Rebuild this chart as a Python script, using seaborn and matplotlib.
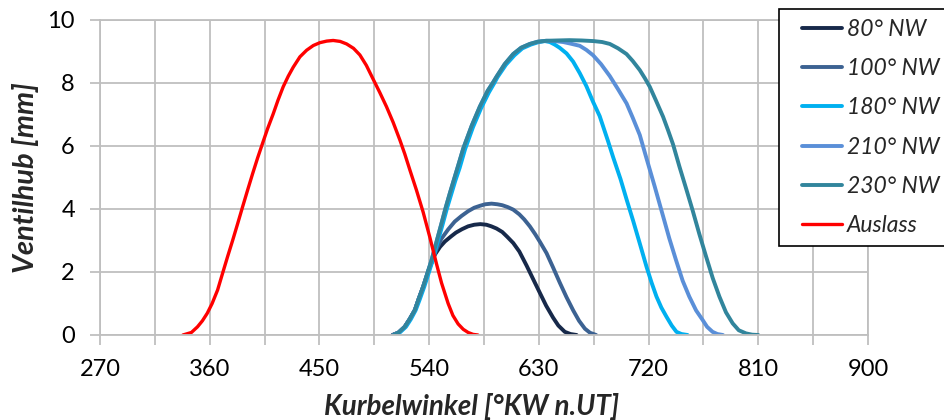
import matplotlib
matplotlib.use("Agg")
import matplotlib.pyplot as plt
import seaborn as sns
from matplotlib.lines import Line2D
from matplotlib.legend_handler import HandlerLine2D

sns.set_theme(style="whitegrid")
plt.rcParams["font.family"] = ["Lato", "DejaVu Sans"]

# valve lift curves (crank angle in deg, lift in mm)
nw80_deg = [510, 515, 520, 524, 528.3, 531.5, 535.1, 540, 544.7, 549, 553, 558, 562, 567,
            572, 577, 582, 587, 591, 595.3, 600, 604, 609, 614, 620, 625, 630.8, 636,
            641.7, 646, 651.3, 656, 661]
nw80_lift = [0, 0.08, 0.26, 0.5, 0.79, 1.15, 1.53, 2.1, 2.55, 2.8, 2.97, 3.13, 3.25, 3.36,
             3.45, 3.5, 3.52, 3.5, 3.45, 3.38, 3.27, 3.12, 2.92, 2.65, 2.2, 1.8, 1.34, 0.93,
             0.55, 0.3, 0.1, 0.03, 0]

nw100_deg = [510, 515, 520, 524, 528.3, 531.5, 535.1, 540, 546, 550, 555.6, 561, 566.6,
             572, 577, 581.6, 586, 591.2, 596, 600, 604.5, 609, 614, 618, 622.6, 627, 631,
             636.3, 641.6, 647.2, 652.7, 658.2, 663, 667.8, 672, 677]
nw100_lift = [0, 0.08, 0.26, 0.5, 0.79, 1.15, 1.53, 2.1, 2.72, 3.05, 3.35, 3.6, 3.78, 3.93,
              4.04, 4.1, 4.15, 4.17, 4.15, 4.12, 4.06, 3.98, 3.83, 3.67, 3.45, 3.2, 2.95,
              2.6, 2.15, 1.66, 1.2, 0.78, 0.45, 0.2, 0.07, 0]

nw180_deg = [511, 516, 521, 525, 529, 532.5, 536, 539.5, 543, 547, 551, 554.5, 558, 561.5,
             565, 569.5, 576, 582.6, 589, 593.5, 596, 603, 610, 616.5, 623.5, 630, 635,
             639, 643, 647, 652.7, 658.1, 663.6, 669, 674.5, 679.9, 686.8, 690.9, 697, 702,
             707.4, 713, 718.3, 722.5, 726.5, 730.5, 734.7, 739, 742.9, 747, 752]
nw180_lift = [0, 0.08, 0.26, 0.5, 0.79, 1.15, 1.53, 1.95, 2.38, 2.95, 3.5, 4.0, 4.45, 4.9,
              5.3, 5.9, 6.6, 7.2, 7.7, 8.0, 8.18, 8.58, 8.88, 9.1, 9.22, 9.3, 9.33, 9.3,
              9.22, 9.12, 8.94, 8.68, 8.31, 7.9, 7.4, 6.95, 6.15, 5.65, 4.95, 4.3, 3.62,
              2.88, 2.17, 1.66, 1.22, 0.87, 0.58, 0.3, 0.1, 0.03, 0]

nw210_deg = [511, 515, 520, 524, 528.3, 531.5, 535.1, 538.5, 542, 546, 550.2, 553.5, 557,
             560.5, 564, 568, 575, 581.6, 588, 592.5, 595.3, 602, 609, 615.5, 622.6, 629,
             636, 643, 650, 656, 663.6, 669, 674.5, 681, 688.2, 695, 702, 707, 712.8, 718,
             725, 732, 737, 742.5, 748, 753.4, 759, 764.3, 768, 772.5, 776.5, 781]
nw210_lift = [0, 0.08, 0.26, 0.5, 0.79, 1.15, 1.53, 1.95, 2.38, 2.95, 3.55, 4.03, 4.5, 4.95,
              5.4, 5.92, 6.65, 7.25, 7.75, 8.02, 8.2, 8.6, 8.92, 9.12, 9.24, 9.31, 9.34,
              9.33, 9.3, 9.25, 9.18, 9.05, 8.88, 8.6, 8.22, 7.8, 7.35, 6.9, 6.35, 5.65,
              4.72, 3.76, 3.07, 2.38, 1.72, 1.22, 0.78, 0.48, 0.26, 0.1, 0.03, 0]

nw230_deg = [511, 515, 520, 524, 528.3, 531.5, 535.1, 538.5, 542, 546, 550.2, 553.5, 557,
             560.5, 564, 568, 575, 581.6, 588, 592.5, 595.3, 602, 609, 615.5, 622.6, 629,
             636, 645, 655, 665, 675, 682, 688.2, 695, 701.9, 707, 712.8, 717, 721, 726,
             731.9, 736, 740.1, 745.3, 750.8, 756.2, 761.7, 767.2, 772.7, 778.1, 783.5,
             789, 794, 800, 805, 810]
nw230_lift = [0, 0.08, 0.26, 0.5, 0.79, 1.15, 1.53, 1.95, 2.38, 2.95, 3.55, 4.03, 4.5, 4.95,
              5.4, 5.92, 6.65, 7.25, 7.75, 8.02, 8.2, 8.6, 8.92, 9.12, 9.24, 9.31, 9.34,
              9.35, 9.36, 9.35, 9.33, 9.3, 9.24, 9.1, 8.92, 8.7, 8.41, 8.15, 7.88, 7.45,
              6.93, 6.5, 6.05, 5.35, 4.65, 3.95, 3.2, 2.49, 1.8, 1.22, 0.72, 0.37, 0.15,
              0.05, 0.01, 0]

aus_deg = [338, 345, 350, 354, 358, 362, 366.5, 370.5, 374.7, 378.8, 382.9, 387, 391.1,
           395.2, 399.3, 403.5, 407.5, 412.1, 416, 420.3, 424.5, 428.5, 434, 439.5, 445,
           450.4, 456, 461.3, 467, 472.3, 478, 483.2, 488.5, 494.1, 499.5, 505, 510.5, 516,
           520, 524.2, 529.6, 535.1, 540.6, 546.1, 550.2, 555.6, 559.5, 563.8, 568, 572,
           576, 580]
aus_lift = [0, 0.08, 0.26, 0.45, 0.69, 1.0, 1.43, 1.95, 2.49, 3.0, 3.53, 4.07, 4.6, 5.12,
            5.62, 6.1, 6.55, 7.02, 7.45, 7.88, 8.22, 8.5, 8.83, 9.04, 9.19, 9.28, 9.33, 9.35,
            9.32, 9.24, 9.1, 8.89, 8.56, 8.12, 7.7, 7.25, 6.75, 6.19, 5.75, 5.24, 4.6, 3.9,
            3.1, 2.25, 1.65, 1.0, 0.62, 0.35, 0.18, 0.08, 0.02, 0]

series = [
    ("80° NW", nw80_deg, nw80_lift, "#17294a", 2.8),
    ("100° NW", nw100_deg, nw100_lift, "#3c6292", 2.8),
    ("180° NW", nw180_deg, nw180_lift, "#00b0f0", 2.8),
    ("210° NW", nw210_deg, nw210_lift, "#5a8fd8", 2.8),
    ("230° NW", nw230_deg, nw230_lift, "#31859c", 2.8),
    ("Auslass", aus_deg, aus_lift, "#ff0000", 2.4),
]

x_ticks = list(range(270, 901, 45))
x_labels = [str(t) if (t - 270) % 90 == 0 else "" for t in x_ticks]
y_ticks = [0, 2, 4, 6, 8, 10]

fig = plt.figure(figsize=(9.45, 4.2), dpi=100)
ax = fig.add_axes([0.1058, 0.2024, 0.8127, 0.75])

for name, xs, ys, col, lw in series:
    sns.lineplot(x=xs, y=ys, ax=ax, color=col, linewidth=lw, label=name,
                 sort=False, estimator=None)

grid_col = "#bfbfbf"
ax.set_xlim(270, 900)
ax.set_ylim(0, 10)
ax.set_xticks(x_ticks)
ax.set_xticklabels(x_labels)
ax.set_yticks(y_ticks)
ax.grid(True, color=grid_col, linewidth=1.3)
ax.set_axisbelow(True)
for side, sp in ax.spines.items():
    sp.set_color(grid_col)
    sp.set_linewidth(1.3)
ax.tick_params(axis="both", which="major", length=7, width=1.3, color=grid_col,
               labelsize=17, labelcolor="black")
ax.tick_params(axis="x", pad=10, direction="out", bottom=True)
ax.tick_params(axis="y", pad=11, direction="out", left=True)

ax.set_xlabel("Kurbelwinkel [°KW n.UT]", fontsize=20, fontweight="bold", style="italic",
              labelpad=10)
ax.xaxis.label.set_x(0.484)
ax.set_ylabel("Ventilhub [mm]", fontsize=21, fontweight="bold", style="italic",
              labelpad=6)

leg = ax.legend(loc="upper left", bbox_to_anchor=(779 / 945, 1 - 9 / 420),
                bbox_transform=fig.transFigure, borderaxespad=0, frameon=True,
                fancybox=False, framealpha=1, edgecolor="black", handlelength=2.35,
                handletextpad=0.2, labelspacing=0.8, borderpad=0.42,
                prop={"style": "italic", "size": 16.5},
                handler_map={Line2D: HandlerLine2D(xpad=0.6)})
leg.get_frame().set_linewidth(1.2)

fig.savefig("out.png", dpi=100)
